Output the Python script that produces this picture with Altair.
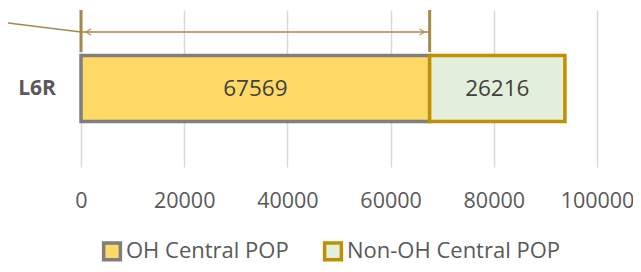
import altair as alt
import pandas as pd

categories = ["L6R", "L6R"]
series = ["OH Central POP", "Non-OH Central POP"]
values = [67569, 26216]
order = [0, 1]

fills = ["#FFD966", "#E2EFDA"]
strokes = ["#7F7F7F", "#BF9000"]

df = pd.DataFrame({"cat": categories, "series": series, "value": values, "order": order})

xscale = alt.Scale(domain=[0, 100000])
font = "Open Sans"

bars = alt.Chart(df).mark_bar(size=66, strokeWidth=3.5).encode(
    x=alt.X("value:Q", stack="zero", scale=xscale,
            axis=alt.Axis(values=[0, 20000, 40000, 60000, 80000, 100000], format="d",
                          title=None, domain=False, ticks=False, labelPadding=23,
                          labelFlush=False, labelOverlap=False,
                          labelFontSize=21.5, labelColor="#595959", labelFont=font,
                          gridColor="#D9D9D9", gridWidth=1.5)),
    y=alt.Y("cat:N", axis=None),
    fill=alt.Fill("series:N", scale=alt.Scale(domain=series, range=fills),
                  legend=alt.Legend(title=None, orient="none", legendX=20, legendY=230,
                                    direction="horizontal",
                                    symbolType="square", symbolSize=280, symbolStrokeWidth=3.5,
                                    labelFontSize=22, labelColor="#595959", labelFont=font,
                                    labelLimit=400, labelOffset=3, columnPadding=28)),
    stroke=alt.Stroke("series:N", scale=alt.Scale(domain=series, range=strokes),
                      legend=alt.Legend(title=None, orient="none")),
    order=alt.Order("order:Q"),
)

labels = alt.Chart(df).mark_text(fontSize=22.5, color="#404040", font=font).encode(
    x=alt.X("mid:Q", scale=xscale),
    y=alt.Y("cat:N", axis=None),
).transform_window(
    cum="sum(value)", sort=[alt.SortField("order")]
).transform_calculate(
    mid="datum.cum - datum.value / 2"
).encode(text="value:Q")

cat_label = alt.Chart(pd.DataFrame({"cat": ["L6R"]})).mark_text(
    fontSize=21, fontWeight="bold", color="#595959", font=font, align="center"
).encode(x=alt.value(-44), y=alt.Y("cat:N", axis=None), text="cat:N")

# dimension annotation
dim_start = [0]
dim_end = [values[0]]
dim = pd.DataFrame({"x0": dim_start, "x1": dim_end})
ann_color = "#A38A48"

dim_line = alt.Chart(dim).mark_rule(color=ann_color, strokeWidth=1.5).encode(
    x=alt.X("x0:Q", scale=xscale), x2="x1:Q", y=alt.value(22))

ticks_df = pd.DataFrame({"x": dim_start + dim_end})
ticks = alt.Chart(ticks_df).mark_rule(color=ann_color, strokeWidth=3).encode(
    x=alt.X("x:Q", scale=xscale), y=alt.value(0), y2=alt.value(42))

arrow_df = pd.DataFrame({"x": dim_start + dim_end, "dir": ["left", "right"]})
arrow_left = alt.Chart(arrow_df).transform_filter("datum.dir == 'left'").mark_point(
    shape="M 1 -0.6 L 0 0 L 1 0.6", size=110, color=ann_color, strokeWidth=1.5,
    filled=False, xOffset=5).encode(x=alt.X("x:Q", scale=xscale), y=alt.value(22))
arrow_right = alt.Chart(arrow_df).transform_filter("datum.dir == 'right'").mark_point(
    shape="M -1 -0.6 L 0 0 L -1 0.6", size=110, color=ann_color, strokeWidth=1.5,
    filled=False, xOffset=-5).encode(x=alt.X("x:Q", scale=xscale), y=alt.value(22))

leader = alt.Chart(pd.DataFrame({"x": [0]})).mark_rule(color=ann_color, strokeWidth=1.5).encode(
    x=alt.value(-81), x2=alt.value(0), y=alt.value(12), y2=alt.value(22))

chart = alt.layer(bars, labels, cat_label, leader, dim_line, ticks, arrow_left, arrow_right).resolve_scale(
    x="shared"
).properties(
    width=516, height=157,
    background="white",
    autosize=alt.AutoSizeParams(type="none"),
    padding={"left": 73, "top": 2, "right": 36, "bottom": 97},
).configure_view(stroke=None)

chart.save("out.html", embed_options={"renderer": "svg", "actions": False})
